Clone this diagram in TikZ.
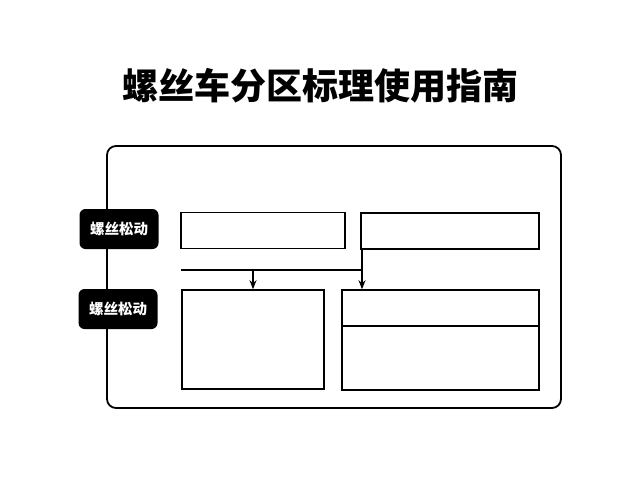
\documentclass[tikz,border=0pt]{standalone}
\usepackage{fontspec}
\setmainfont{Noto Sans CJK SC}[BoldFont={Noto Sans CJK SC Bold}]
\newfontfamily\heavyfont{Noto Sans CJK SC Black}
\usetikzlibrary{arrows.meta}

\begin{document}
\begin{tikzpicture}[x=1pt, y=-1pt,
	box/.style={draw, line width=1.6pt, inner sep=0pt},
	tag/.style={fill=black, rounded corners=6pt, text=white, font=\heavyfont\fontsize{14.5}{14.5}\selectfont, inner sep=0pt, minimum width=79pt, minimum height=40pt},
	link/.style={line width=1.6pt},
	arrow/.style={line width=1.4pt, -{Stealth[length=9pt, width=7pt]}}]
	\useasboundingbox (0,0) rectangle (640,480);

	% Title
	\node (title) at (320,86) {\heavyfont\fontsize{36}{36}\selectfont 螺丝车分区标理使用指南};

	% Draw frame
	\draw[line width=1.8pt, rounded corners=9pt] (107,146) rectangle (561,408);

	% Side tags
	\node[tag] (tagA) at (119,229) {螺丝松动};
	\node[tag] (tagB) at (118,309) {螺丝松动};

	% Top row
	\node[box, minimum width=164pt, minimum height=36pt] (topL) at (263,230.5) {};
	\node[box, minimum width=178pt, minimum height=36pt] (topR) at (450,231) {};

	% Bottom row
	\node[box, minimum width=142pt, minimum height=99pt] (botL) at (253,339.5) {};
	\node[box, minimum width=197pt, minimum height=36pt] (botRhead) at (440.5,308) {};
	\node[box, minimum width=197pt, minimum height=64pt] (botRbody) at (440.5,358) {};

	% Connectors
	\coordinate (busL) at (181,270);
	\coordinate (busR) at (362,270);
	\draw[link] (busL) -- (busR);
	\draw[arrow] (topR.south west -| busR) -- (botRhead.north west -| busR);
	\draw[arrow] (busL -| botL.north) -- (botL.north);

\end{tikzpicture}
\end{document}
